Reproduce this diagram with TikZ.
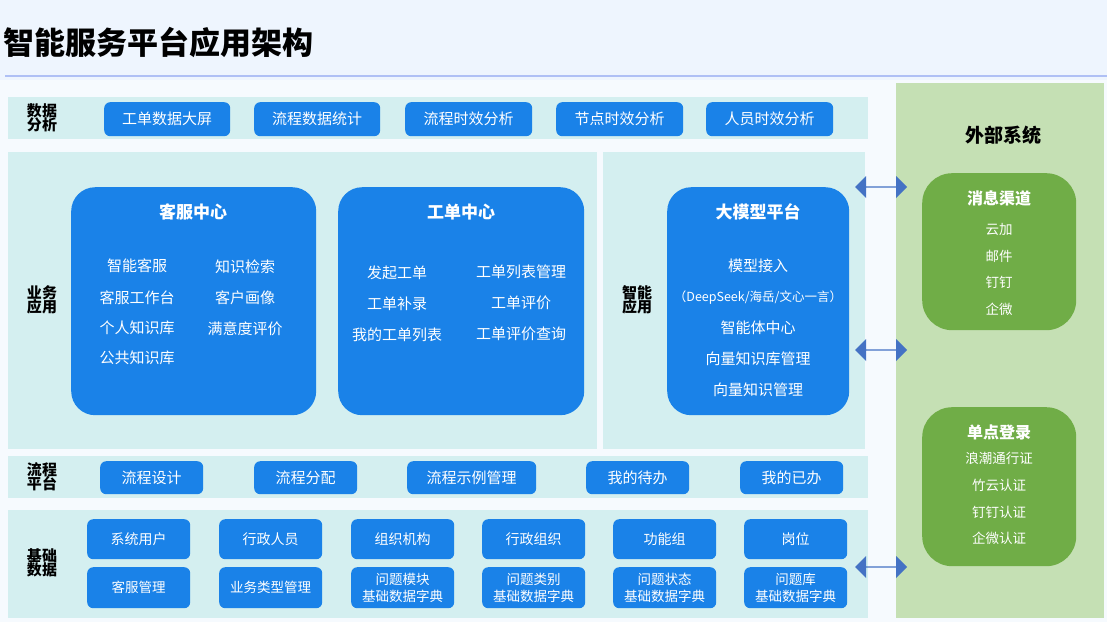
\documentclass[tikz,border=0pt]{standalone}
\usepackage{fontspec}
\setmainfont{Noto Sans CJK SC}
\usetikzlibrary{shapes.arrows}
\definecolor{bgc}{HTML}{EEF5FE}
\definecolor{band}{HTML}{D4EFF0}
\definecolor{btn}{HTML}{1A82E8}
\definecolor{extc}{HTML}{C5E0B4}
\definecolor{grn}{HTML}{70AD47}
\definecolor{arr}{HTML}{4472C4}
\definecolor{lin}{HTML}{AFC0F5}
\begin{document}
\begin{tikzpicture}[x=1pt,y=-1pt,
  bandbox/.style={fill=band,draw=none},
  btnbox/.style={fill=btn,rounded corners=6pt,text=white,font=\fontsize{15}{17}\selectfont,inner sep=0pt,anchor=north west},
  bigbox/.style={fill=btn,rounded corners=24pt,anchor=north west,inner sep=0pt},
  grnbox/.style={fill=grn,rounded corners=30pt,anchor=north west,inner sep=0pt},
  lbl/.style={font=\fontsize{15}{17}\selectfont\bfseries,align=center},
  wt/.style={text=white,font=\fontsize{15}{17}\selectfont},
  gt/.style={text=white,font=\fontsize{13.5}{15}\selectfont},
  ttl/.style={text=white,font=\fontsize{17}{19}\selectfont\bfseries},
  dar/.style={double arrow,fill=arr,draw=none,minimum width=22pt,minimum height=52pt,double arrow head extend=3pt,inner sep=0pt,shape border rotate=0}]
\useasboundingbox (0,0) rectangle (1107,622);
\fill[bgc] (0,0) rectangle (1107,622);
\fill[white,opacity=0.5] (0,80) rectangle (1107,622);
\node[anchor=west,font=\fontsize{31}{34}\selectfont\bfseries] (title) at (0,42) {智能服务平台应用架构};
\draw[lin,line width=1.5pt] (5,76) -- (1107,76);
% data analysis
\fill[band] (8,97) rectangle (868,139);
\node[lbl] (l1) at (42,118) {数据\\[-3pt]分析};
\foreach \x/\w/\t [count=\i] in {104/126/工单数据大屏,254/126/流程数据统计,405/127/流程时效分析,556/127/节点时效分析,706/127/人员时效分析}
  \node[btnbox,minimum width=\w pt,minimum height=34pt] (da\i) at (\x,102) {\t};
% business
\fill[band] (8,152) rectangle (597,449);
\fill[band] (603,152) rectangle (865,449);
\node[lbl] (l2) at (42,300) {业务\\[-3pt]应用};
\node[lbl] (l3) at (637,300) {智能\\[-3pt]应用};
\node[bigbox,minimum width=245pt,minimum height=228pt] (kf) at (71,187) {};
\node[ttl] (kft) at (193,212) {客服中心};
\foreach \t/\y [count=\i] in {智能客服/266,客服工作台/298,个人知识库/328,公共知识库/358} \node[wt] (kfa\i) at (137,\y) {\t};
\foreach \t/\y [count=\i] in {知识检索/267,客户画像/298,满意度评价/329} \node[wt] (kfb\i) at (245,\y) {\t};
\node[bigbox,minimum width=246pt,minimum height=228pt] (gd) at (338,187) {};
\node[ttl] (gdt) at (461,212) {工单中心};
\foreach \t/\y [count=\i] in {发起工单/273,工单补录/304,我的工单列表/335} \node[wt] (gda\i) at (397,\y) {\t};
\foreach \t/\y [count=\i] in {工单列表管理/272,工单评价/303,工单评价查询/334} \node[wt] (gdb\i) at (521,\y) {\t};
\node[bigbox,minimum width=182pt,minimum height=228pt] (dm) at (667,187) {};
\node[ttl] (dmt) at (758,212) {大模型平台};
\node[wt] (dm1) at (758,266) {模型接入};
\node[text=white,font=\fontsize{12.5}{14}\selectfont] (dm2) at (758,298) {（DeepSeek/海岳/文心一言）};
\node[wt] (dm3) at (758,328) {智能体中心};
\node[wt] (dm4) at (758,359) {向量知识库管理};
\node[wt] (dm5) at (758,390) {向量知识管理};
% process
\fill[band] (8,456) rectangle (868,498);
\node[lbl] (l4) at (42,477) {流程\\[-3pt]平台};
\foreach \x/\w/\t [count=\i] in {100/103/流程设计,254/103/流程分配,407/129/流程示例管理,586/103/我的待办,740/103/我的已办}
  \node[btnbox,minimum width=\w pt,minimum height=33pt] (pp\i) at (\x,461) {\t};
% base data
\fill[band] (8,510) rectangle (868,618);
\node[lbl] (l5) at (42,563) {基础\\[-3pt]数据};
\foreach \x/\t [count=\i] in {87/系统用户,219/行政人员,351/组织机构,482/行政组织,613/功能组,744/岗位}
  \node[btnbox,minimum width=103pt,minimum height=40pt,font=\fontsize{14}{16}\selectfont] (b\i) at (\x,519) {\t};
\foreach \x/\t [count=\i] in {87/客服管理,219/业务类型管理,351/问题模块\\基础数据字典,482/问题类别\\基础数据字典,613/问题状态\\基础数据字典,744/问题库\\基础数据字典}
  \node[btnbox,minimum width=103pt,minimum height=41pt,align=center,font=\fontsize{13.5}{17}\selectfont] (c\i) at (\x,567) {\t};
% external
\fill[extc] (896,83) rectangle (1104,618);
\node[font=\fontsize{19}{21}\selectfont\bfseries] (ext) at (1003,135) {外部系统};
\node[grnbox,minimum width=154pt,minimum height=157pt] (msg) at (922,173) {};
\node[ttl,font=\fontsize{16}{18}\selectfont\bfseries] (msgt) at (999,198) {消息渠道};
\foreach \t/\y [count=\i] in {云加/229,邮件/256,钉钉/282,企微/309} \node[gt] (m\i) at (999,\y) {\t};
\node[grnbox,minimum width=154pt,minimum height=159pt] (sso) at (922,407) {};
\node[ttl,font=\fontsize{16}{18}\selectfont\bfseries] (ssot) at (999,432) {单点登录};
\foreach \t/\y [count=\i] in {浪潮通行证/458,竹云认证/485,钉钉认证/512,企微认证/538} \node[gt] (s\i) at (999,\y) {\t};
% arrows
\node[dar] (a1) at (881,187) {};
\node[dar] (a2) at (881,350) {};
\node[dar] (a3) at (881,567) {};
\end{tikzpicture}
\end{document}
